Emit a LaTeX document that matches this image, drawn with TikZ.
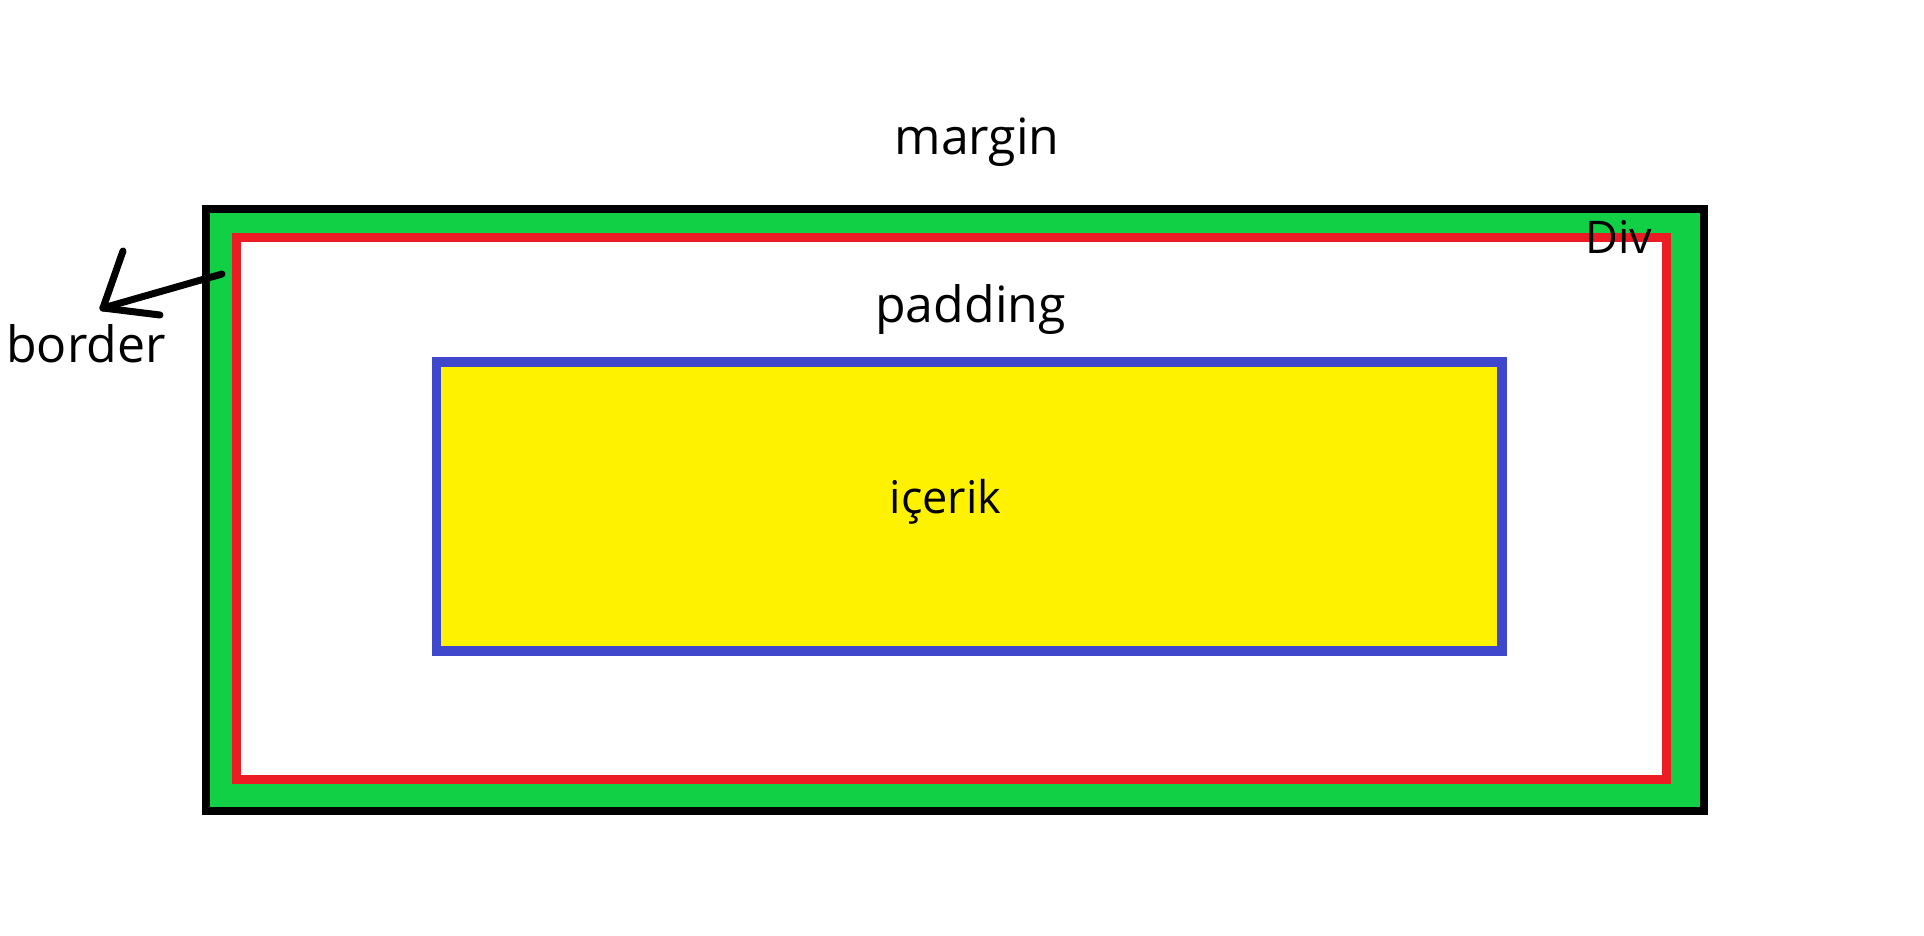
\documentclass[tikz,border=0pt]{standalone}
\usepackage{fontspec}
\setmainfont{Open Sans}
\usetikzlibrary{positioning}
\definecolor{margingreen}{RGB}{17,208,70}
\definecolor{borderred}{RGB}{237,28,36}
\definecolor{contentblue}{RGB}{63,72,204}
\definecolor{contentyellow}{RGB}{255,242,0}
\tikzset{
 biglabel/.style={inner sep=0pt,anchor=base,font=\fontsize{50}{60}\selectfont},
 smalllabel/.style={inner sep=0pt,anchor=base,font=\fontsize{45}{54}\selectfont},
 pen/.style={line width=7pt,line cap=round,line join=round}
}
\begin{document}
\begin{tikzpicture}[x=1pt,y=-1pt]
\useasboundingbox (0,0) rectangle (1924,936);
\fill[white] (0,0) rectangle (1924,936);
% margin box, border box, content box
\draw[line width=8pt,fill=margingreen] (206,209) rectangle (1704,811);
\draw[line width=9pt,draw=borderred,fill=white] (236.5,237) rectangle (1666.5,779.5);
\draw[line width=9.5pt,draw=contentblue,fill=contentyellow] (436.5,362) rectangle (1502,651);
% labels
\node[biglabel] (margin) at (977,155) {margin};
\node[biglabel] (padding) at (970.5,322) {padding};
\node[smalllabel] (content) at (945.5,513) {içerik};
\node[smalllabel] (div) at (1619,253) {Div};
\node[biglabel] (border) at (86,362) {border};
% hand drawn arrow
\coordinate (tail) at (222,274);
\coordinate (tip) at (103,308);
\draw[pen] (tail) -- (tip);
\draw[pen] (tip) -- ++(20,-57);
\draw[pen] (tip) -- ++(57,7);
\end{tikzpicture}
\end{document}
